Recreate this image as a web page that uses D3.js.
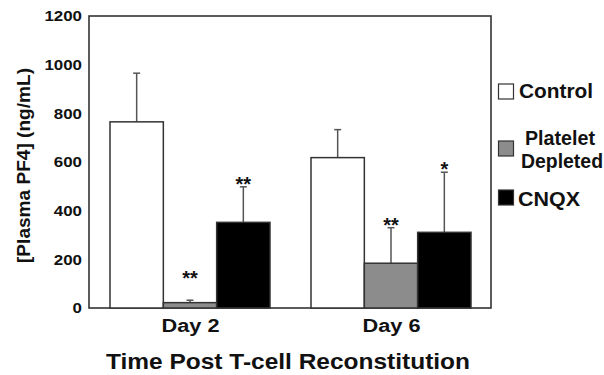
<!DOCTYPE html>
<html>
<head>
  <meta charset="utf-8">
  <style>
    body { margin: 0; background: #fff; font-family: "Liberation Sans", Arial, sans-serif; }
    text { font-weight: bold; fill: #111; }
  </style>
</head>
<body>
  <div id="chart"></div>
  <script src="https://d3js.org/d3.v7.min.js"></script>
  <script>
    // chart data
    var days = ["Day 2", "Day 6"];
    var groups = ["Control", "Platelet Depleted", "CNQX"];
    var means = [[765, 22, 352], [618, 184, 311]];
    var errors = [[200, 10, 146], [115, 146, 247]];
    var stars = [["", "**", "**"], ["", "**", "*"]];
    var yTicks = [0, 200, 400, 600, 800, 1000, 1200];
    var fills = ["#ffffff", "#8c8c8c", "#000000"];

    var width = 604, height = 375;
    var margin = { left: 89, right: 113, top: 16, bottom: 67 };
    var plotW = width - margin.left - margin.right,
      plotH = height - margin.top - margin.bottom;

    var svg = d3.select("#chart").append("svg")
      .attr("width", width)
      .attr("height", height);

    // the original lettering is a bit wider than Liberation Sans, stretch it
    function fit(sel, w) {
      sel.attr("textLength", w).attr("lengthAdjust", "spacingAndGlyphs");
    }

    var g = svg.append("g").attr("transform", "translate(" + margin.left + "," + margin.top + ")");

    var x0 = d3.scaleBand().domain(days).range([0, plotW]);
    var x1 = d3.scaleBand().domain(groups).range([21, x0.bandwidth() - 20]);
    var y = d3.scaleLinear().domain([0, 1200]).range([plotH, 0]);

    // frame
    g.append("rect")
      .attr("width", plotW).attr("height", plotH)
      .attr("fill", "none").attr("stroke", "#333").attr("stroke-width", 1.6);

    // y tick labels
    g.append("g").selectAll("text").data(yTicks).enter().append("text")
      .attr("x", -7).attr("y", function(d) { return y(d); })
      .attr("dy", "0.36em").attr("text-anchor", "end")
      .style("font-size", "15px")
      .text(function(d) { return d; })
      .each(function(d) { fit(d3.select(this), String(d).length * 9.4); });

    // bars
    var day = g.selectAll(".day").data(days).enter().append("g")
      .attr("transform", function(d) { return "translate(" + x0(d) + ",0)"; });

    day.each(function(d, i) {
      var sel = d3.select(this);
      groups.forEach(function(grp, j) {
        var cx = x1(grp) + x1.bandwidth() / 2;
        var top = y(means[i][j] + errors[i][j]);
        // error bar
        sel.append("line")
          .attr("x1", cx).attr("x2", cx)
          .attr("y1", y(means[i][j])).attr("y2", top)
          .attr("stroke", "#555").attr("stroke-width", 1.5);
        sel.append("line")
          .attr("x1", cx - 3.5).attr("x2", cx + 3.5)
          .attr("y1", top).attr("y2", top)
          .attr("stroke", "#555").attr("stroke-width", 1.5);
        sel.append("rect")
          .attr("x", x1(grp)).attr("y", y(means[i][j]))
          .attr("width", x1.bandwidth()).attr("height", plotH - y(means[i][j]))
          .attr("fill", fills[j]).attr("stroke", "#333").attr("stroke-width", 1.5);
        if (stars[i][j]) {
          // keep the marks clear of the x axis region for tiny bars
          var sy = Math.min(top, y(110));
          sel.append("text")
            .attr("x", cx).attr("y", sy + 4)
            .attr("text-anchor", "middle")
            .style("font-size", "20px")
            .text(stars[i][j]);
        }
      });
    });

    // x labels
    g.append("g").selectAll("text").data(days).enter().append("text")
      .attr("x", function(d) { return x0(d) + x0.bandwidth() / 2 + 1; })
      .attr("y", 332 - margin.top)
      .attr("text-anchor", "middle")
      .style("font-size", "18px")
      .text(function(d) { return d; })
      .call(fit, 58);

    // axis titles
    svg.append("text")
      .attr("x", 288).attr("y", 369)
      .attr("text-anchor", "middle")
      .style("font-size", "22px")
      .text("Time Post T-cell Reconstitution")
      .call(fit, 364);

    svg.append("text")
      .attr("transform", "translate(29.5,165.5) rotate(-90)")
      .attr("text-anchor", "middle")
      .style("font-size", "19px")
      .text("[Plasma PF4] (ng/mL)")
      .call(fit, 195);

    // legend
    var legY = [84, 141, 190];
    var legend = svg.append("g");
    groups.forEach(function(grp, j) {
      legend.append("rect")
        .attr("x", 498.5).attr("y", legY[j])
        .attr("width", 15).attr("height", 15)
        .attr("fill", fills[j]).attr("stroke", "#333").attr("stroke-width", 1.2);
    });
    legend.append("text").attr("x", 519).attr("y", 98).style("font-size", "20px").text("Control").call(fit, 74);
    legend.append("text").attr("x", 560).attr("y", 145).attr("text-anchor", "middle").style("font-size", "20px").text("Platelet").call(fit, 70);
    legend.append("text").attr("x", 562).attr("y", 168).attr("text-anchor", "middle").style("font-size", "20px").text("Depleted").call(fit, 82);
    legend.append("text").attr("x", 518).attr("y", 206).style("font-size", "20px").text("CNQX").call(fit, 62);
  </script>
</body>
</html>
